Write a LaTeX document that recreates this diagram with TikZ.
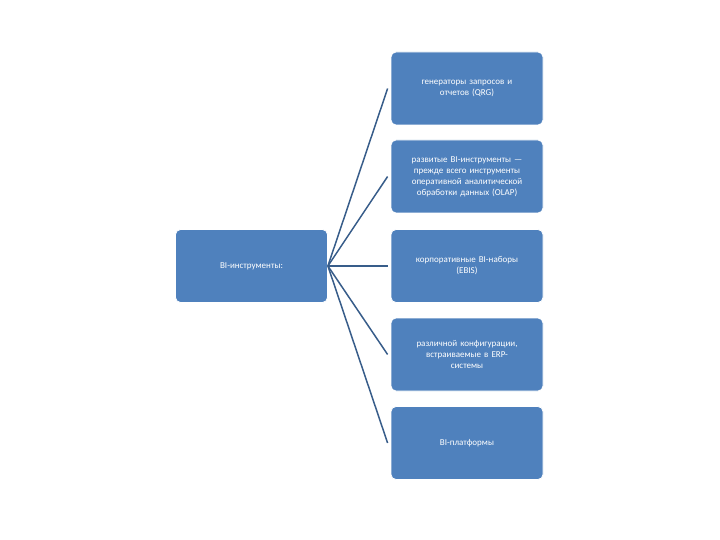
\documentclass[tikz,border=0pt]{standalone}
\usepackage{fontspec}
\setmainfont{Carlito}
\begin{document}
\begin{tikzpicture}[x=1pt,y=-1pt,
  box/.style={draw=white,line width=0.8pt,fill={rgb,255:red,79;green,129;blue,189},rounded corners=5pt,
    minimum width=152pt,minimum height=73pt,text width=146pt,align=center,text=white,
    font=\fontsize{9}{11}\selectfont,inner sep=2pt},
  conn/.style={draw={rgb,255:red,56;green,93;blue,138},line width=1.5pt}]
\useasboundingbox (0,0) rectangle (720,540);
\node[box] (L) at (251.5,266) {BI-инструменты:};
\node[box] (A) at (467,88.5) {генераторы запросов и\\ отчетов (QRG)};
\node[box] (B) at (467,176.5) {развитые BI-инструменты —\\ прежде всего инструменты\\ оперативной аналитической\\ обработки данных (OLAP)};
\node[box] (C) at (467,266) {корпоративные BI-наборы\\ (EBIS)};
\node[box] (D) at (467,354.5) {различной конфигурации,\\ встраиваемые в ERP-\\ системы};
\node[box] (E) at (467,443) {BI-платформы};
\coordinate (o) at (L.east);
\foreach \t in {A,B,C,D,E}{
  \draw[conn] (o) -- ([xshift=-3pt]\t.west);
}
\end{tikzpicture}
\end{document}
